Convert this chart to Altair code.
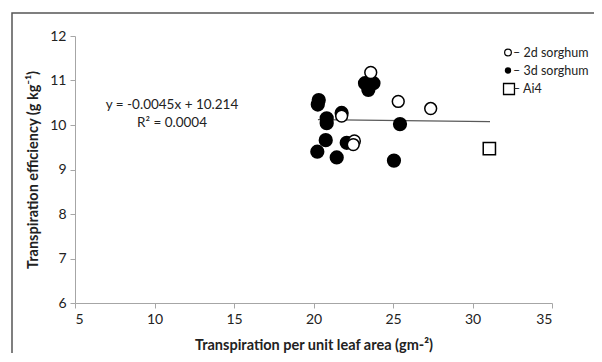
import altair as alt
import pandas as pd

# ---- data ----
x_2d = [23.6, 25.33, 27.37, 21.77, 22.57, 22.5]
y_2d = [11.18, 10.53, 10.37, 10.2, 9.64, 9.56]

x_3d = [20.33, 20.27, 20.83, 20.83, 20.77, 20.24, 21.46, 22.09, 21.77, 23.24, 23.77, 23.45, 25.44, 25.06]
y_3d = [10.56, 10.46, 10.15, 10.04, 9.66, 9.4, 9.27, 9.6, 10.27, 10.94, 10.94, 10.79, 10.02, 9.2]

x_ai4 = [31.06]
y_ai4 = [9.47]

trend_slope = -0.0045
trend_intercept = 10.214
trend_x = [20.28, 31.1]

eq_lines = ["y = -0.0045x + 10.214", "R² = 0.0004"]
eq_x = [11.1, 11.1]
eq_y = [10.45, 10.05]

legend_labels = ["– 2d sorghum", "– 3d sorghum", "– Ai4"]

x_ticks = [5, 10, 15, 20, 25, 30, 35]
y_ticks = [6, 7, 8, 9, 10, 11, 12]

FONT = "Lato"

df2 = pd.DataFrame({"x": x_2d, "y": y_2d})
df3 = pd.DataFrame({"x": x_3d, "y": y_3d})
dfa = pd.DataFrame({"x": x_ai4, "y": y_ai4})
dft = pd.DataFrame({"x": trend_x, "y": [trend_slope * v + trend_intercept for v in trend_x]})
dfe = pd.DataFrame({"x": eq_x, "y": eq_y, "t": eq_lines})

xs = alt.Scale(domain=[5, 35], nice=False, zero=False)
ys = alt.Scale(domain=[6, 12], nice=False, zero=False)

X = alt.X("x:Q", scale=xs, axis=alt.Axis(values=x_ticks, title="Transpiration per unit leaf area (gm-²)",
                                          titlePadding=12))
Y = alt.Y("y:Q", scale=ys, axis=alt.Axis(values=y_ticks, title="Transpiration efficiency (g kg⁻¹)",
                                          titlePadding=9))

base_x = alt.X("x:Q", scale=xs)
base_y = alt.Y("y:Q", scale=ys)

trend = alt.Chart(dft).mark_line(color="#595959", strokeWidth=1.2).encode(x=X, y=Y)

filled = alt.Chart(df3).mark_point(shape="circle", filled=True, fill="black", stroke="black",
                                   size=150, opacity=1).encode(x=base_x, y=base_y)
opened = alt.Chart(df2).mark_point(shape="circle", filled=True, fill="white", stroke="black",
                                   strokeWidth=1.5, size=140, opacity=1).encode(x=base_x, y=base_y)
square = alt.Chart(dfa).mark_point(shape="square", filled=True, fill="white", stroke="black",
                                   strokeWidth=1.5, size=150, opacity=1).encode(x=base_x, y=base_y)

eq = alt.Chart(dfe).mark_text(font=FONT, fontSize=13.5, color="#222", align="center", baseline="middle").encode(
    x=base_x, y=base_y, text="t:N")

# legend (manual)
leg_x_sym = 433
leg_x_txt = 438
leg_rows = [16.5, 34.5, 53]
leg = []
leg.append(alt.Chart(pd.DataFrame({"a": [0]})).mark_point(shape="circle", filled=True, fill="white", stroke="black",
                                                          strokeWidth=1.2, size=45, opacity=1).encode(
    x=alt.value(leg_x_sym), y=alt.value(leg_rows[0])))
leg.append(alt.Chart(pd.DataFrame({"a": [0]})).mark_point(shape="circle", filled=True, fill="black",
                                                          size=40, opacity=1).encode(
    x=alt.value(leg_x_sym), y=alt.value(leg_rows[1])))
leg.append(alt.Chart(pd.DataFrame({"a": [0]})).mark_point(shape="square", filled=True, fill="white", stroke="black",
                                                          strokeWidth=1.3, size=120, opacity=1).encode(
    x=alt.value(leg_x_sym + 1), y=alt.value(leg_rows[2])))
for lab, ry in zip(legend_labels, leg_rows):
    leg.append(alt.Chart(pd.DataFrame({"t": [lab]})).mark_text(font=FONT, fontSize=12.5, color="#222",
                                                               align="left", baseline="middle").encode(
        x=alt.value(leg_x_txt), y=alt.value(ry), text="t:N"))

border = alt.Chart(pd.DataFrame({"a": [0]})).mark_rect(fill="transparent", stroke="#555555", strokeWidth=1.5).encode(
    x=alt.value(-63), x2=alt.value(560), y=alt.value(-23), y2=alt.value(400))

chart = alt.layer(border, trend, filled, opened, square, eq, *leg).properties(
    width=477, height=267,
    autosize=alt.AutoSizeParams(type="none"),
    padding={"left": 67, "top": 28, "right": 42, "bottom": 50},
).configure_view(stroke=None).configure_axis(
    grid=False,
    domainColor="#a6a6a6",
    tickColor="#a6a6a6",
    tickSize=5,
    labelFont=FONT,
    labelFontSize=14,
    labelColor="#222",
    titleFont=FONT,
    titleFontSize=14.5,
    titleFontWeight="bold",
    titleColor="#222",
    labelPadding=4,
)

chart.save("out.html", embed_options={"renderer": "svg", "actions": False})
